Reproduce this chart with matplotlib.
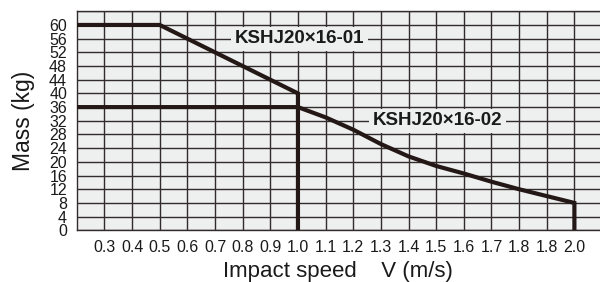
import matplotlib
matplotlib.use('Agg')
import matplotlib.pyplot as plt

# --- Data ---
v_01 = [0.2, 0.5, 1.0, 1.0]
m_01 = [60, 60, 40, 0]

v_02 = [0.2, 1.0, 1.1, 1.2, 1.3, 1.4, 1.5, 1.6, 1.7, 1.8, 1.9, 2.0, 2.0]
m_02 = [36, 36, 33.0, 29.4, 25.2, 21.6, 18.8, 16.6, 14.2, 12.0, 10.0, 8.0, 0]

x_ticks = [0.3, 0.4, 0.5, 0.6, 0.7, 0.8, 0.9, 1.0, 1.1, 1.2,
           1.3, 1.4, 1.5, 1.6, 1.7, 1.8, 1.9, 2.0]
# the original chart labels 1.9 as "1.8"
x_tick_labels = ['0.3', '0.4', '0.5', '0.6', '0.7', '0.8', '0.9', '1.0', '1.1', '1.2',
                 '1.3', '1.4', '1.5', '1.6', '1.7', '1.8', '1.8', '2.0']
y_ticks = list(range(0, 65, 4))
y_tick_labels = [str(t) for t in range(0, 61, 4)] + ['']

label_01 = 'KSHJ20×16-01'
label_02 = 'KSHJ20×16-02'

# --- Styling ---
plt.rcParams['font.family'] = ['Liberation Sans', 'DejaVu Sans']
BG = '#eeefef'
GRID = '#332c2c'
INK = '#231815'
TXT = '#1a1a1a'

fig = plt.figure(figsize=(6.0, 2.82), dpi=100)
ax = fig.add_axes([0.128, 0.1833, 0.872, 0.7767])
ax.set_facecolor(BG)

ax.set_xlim(0.2, 2.0926)
ax.set_ylim(0, 64)
ax.set_xticks(x_ticks)
ax.set_xticklabels(x_tick_labels, fontsize=11.5, color=TXT)
ax.set_yticks(y_ticks)
ax.set_yticklabels(y_tick_labels, fontsize=11.5, color=TXT)
ax.tick_params(length=0)
ax.tick_params(axis='y', pad=7)
ax.tick_params(axis='x', pad=7)
ax.grid(True, color=GRID, linewidth=1.0, zorder=1)
ax.set_axisbelow(True)

for side in ['left', 'bottom', 'top']:
    ax.spines[side].set_color(GRID)
    ax.spines[side].set_linewidth(1.0)
ax.spines['right'].set_visible(False)

ax.plot(v_01, m_01, color=INK, linewidth=3.0, solid_joinstyle='miter',
        solid_capstyle='butt', zorder=3)
ax.plot(v_02, m_02, color=INK, linewidth=3.0, solid_joinstyle='miter',
        solid_capstyle='butt', zorder=3)

box = dict(facecolor=BG, edgecolor='none', pad=2.5)
ax.text(1.005, 56, label_01, fontsize=13.5, fontweight='bold', color=TXT,
        ha='center', va='center', bbox=box, zorder=4)
ax.text(1.505, 32, label_02, fontsize=13.5, fontweight='bold', color=TXT,
        ha='center', va='center', bbox=box, zorder=4)

ax.set_ylabel('Mass (kg)', fontsize=16.5, color=TXT, labelpad=10)
ax.set_xlabel('Impact speed    V (m/s)', fontsize=16, color=TXT, labelpad=4)

fig.savefig('out.png', dpi=100, facecolor='white')
